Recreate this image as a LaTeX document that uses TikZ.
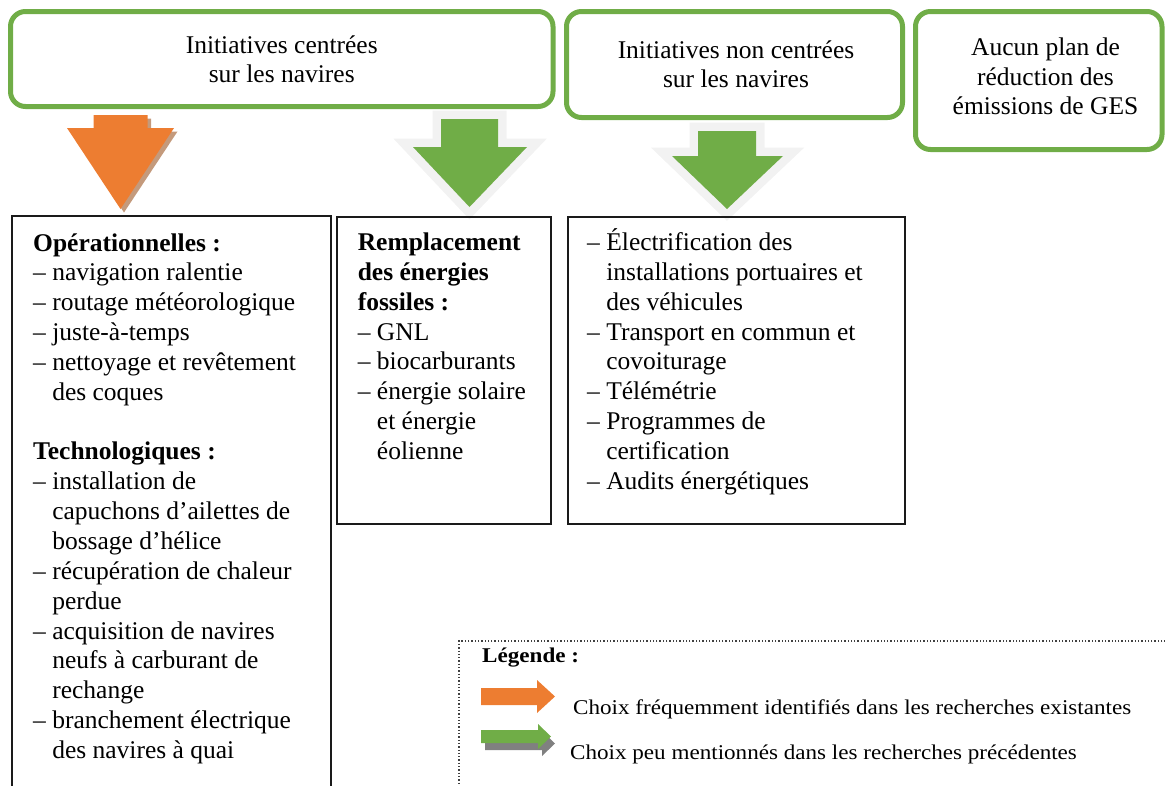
\documentclass[tikz,border=0pt]{standalone}
\usepackage{fontspec}
\setmainfont{Liberation Serif}
\newfontfamily\legfont[FakeStretch=1.1]{Liberation Serif}
\definecolor{grn}{HTML}{70AD47}
\definecolor{org}{HTML}{ED7D31}
\definecolor{orgshadow}{HTML}{C49A7C}
\definecolor{outl}{HTML}{F2F2F2}
\definecolor{lgshadow}{HTML}{808080}
\definecolor{boxline}{HTML}{1A1A1A}
\newcommand{\txtL}[1]{\begin{tabular}[t]{@{}l@{}}#1\end{tabular}}
\newcommand{\txtC}[1]{\begin{tabular}[t]{@{}c@{}}#1\end{tabular}}
\newcommand{\ind}{\phantom{– }}
\begin{document}
\begin{tikzpicture}[x=1pt,y=-1pt,
  topbox/.style={draw=grn, line width=5pt, rounded corners=15pt, inner sep=0pt, outer sep=0pt},
  blkbox/.style={draw=boxline, line width=1.8pt, inner sep=0pt, outer sep=0pt},
  legbox/.style={draw=black!75, dotted, line width=1.3pt, inner sep=0pt, outer sep=0pt},
  toptxt/.style={inner sep=0pt, anchor=base, font=\fontsize{25.5}{29.3}\selectfont},
  boxtxt/.style={inner sep=0pt, anchor=base west, font=\fontsize{25.5}{29.85}\selectfont},
  legtxt/.style={inner sep=0pt, anchor=base west, font=\legfont\fontsize{21}{25}\selectfont},
  bigoutline/.style={draw=outl, fill=outl, line width=17pt, line join=miter}
]
\useasboundingbox (0,0) rectangle (1165,785);

% ---- top boxes
\node[topbox, minimum width=542.5pt, minimum height=95pt] (ship) at (281.75,59) {};
\node[topbox, minimum width=336pt, minimum height=106pt] (nonship) at (734.5,64.5) {};
\node[topbox, minimum width=246.5pt, minimum height=138pt] (noplan) at (1038.75,80.5) {};

\node[toptxt] (shipt) at (281.75,53.3) {\txtC{Initiatives centrées\\sur les navires}};
\node[toptxt] (nonshipt) at (736,58.3) {\txtC{Initiatives non centrées\\sur les navires}};
\node[toptxt] (noplant) at (1045.5,55.7) {\txtC{Aucun plan de\\réduction des\\émissions de GES}};

% ---- block arrows
\begin{scope}[shift={(3.5,3.5)}]
\fill[orgshadow] (93.5,115) -- (147.5,115) -- (147.5,128) -- (174,128) -- (120.5,209) -- (67,128) -- (93.5,128) -- cycle;
\end{scope}
\fill[org] (93.5,115) -- (147.5,115) -- (147.5,128) -- (174,128) -- (120.5,209) -- (67,128) -- (93.5,128) -- cycle;

\path[bigoutline] (441,119) -- (498,119) -- (498,147) -- (527,147) -- (469.5,207) -- (413,147) -- (441,147) -- cycle;
\fill[grn] (441,119) -- (498,119) -- (498,147) -- (527,147) -- (469.5,207) -- (413,147) -- (441,147) -- cycle;

\path[bigoutline] (698,131) -- (756,131) -- (756,156) -- (783,156) -- (727,209) -- (672,156) -- (698,156) -- cycle;
\fill[grn] (698,131) -- (756,131) -- (756,156) -- (783,156) -- (727,209) -- (672,156) -- (698,156) -- cycle;

% ---- lower boxes
\node[blkbox, minimum width=319pt, minimum height=584pt] (ops) at (171.5,508) {};
\node[blkbox, minimum width=214pt, minimum height=307pt] (fuel) at (444,370.5) {};
\node[blkbox, minimum width=337pt, minimum height=307pt] (port) at (736.5,370.5) {};

\node[boxtxt] (opst) at (33,251) {\txtL{%
\textbf{Opérationnelles :}\\
– navigation ralentie\\
– routage météorologique\\
– juste-à-temps\\
– nettoyage et revêtement\\
\ind des coques\\
\\
\textbf{Technologiques :}\\
– installation de\\
\ind capuchons d’ailettes de\\
\ind bossage d’hélice\\
– récupération de chaleur\\
\ind perdue\\
– acquisition de navires\\
\ind neufs à carburant de\\
\ind rechange\\
– branchement électrique\\
\ind des navires à quai}};

\node[boxtxt, font=\fontsize{25.5}{29.8}\selectfont] (fuelt) at (357.6,250.7) {\txtL{%
\textbf{Remplacement}\\
\textbf{des énergies}\\
\textbf{fossiles :}\\
– GNL\\
– biocarburants\\
– énergie solaire\\
\ind et énergie\\
\ind éolienne}};

\node[boxtxt, font=\fontsize{25.5}{29.8}\selectfont] (portt) at (587,250.7) {\txtL{%
– Électrification des\\
\ind installations portuaires et\\
\ind des véhicules\\
– Transport en commun et\\
\ind covoiturage\\
– Télémétrie\\
– Programmes de\\
\ind certification\\
– Audits énergétiques}};

% ---- legend
\node[legbox, minimum width=716pt, minimum height=159pt] (legend) at (817,720.5) {};
\node[legtxt] (legtitle) at (482,662) {\textbf{Légende :}};
\fill[org] (481,688) -- (537,688) -- (537,680) -- (555,696.5) -- (537,713) -- (537,705) -- (481,705) -- cycle;
\begin{scope}[shift={(4,7)}]
\fill[lgshadow] (481,730) -- (538,730) -- (538,724) -- (551,736.5) -- (538,749) -- (538,743) -- (481,743) -- cycle;
\end{scope}
\fill[grn] (481,730) -- (538,730) -- (538,724) -- (551,736.5) -- (538,749) -- (538,743) -- (481,743) -- cycle;
\node[legtxt] (leg1) at (573,714) {Choix fréquemment identifiés dans les recherches existantes};
\node[legtxt] (leg2) at (570,759) {Choix peu mentionnés dans les recherches précédentes};
\end{tikzpicture}
\end{document}
